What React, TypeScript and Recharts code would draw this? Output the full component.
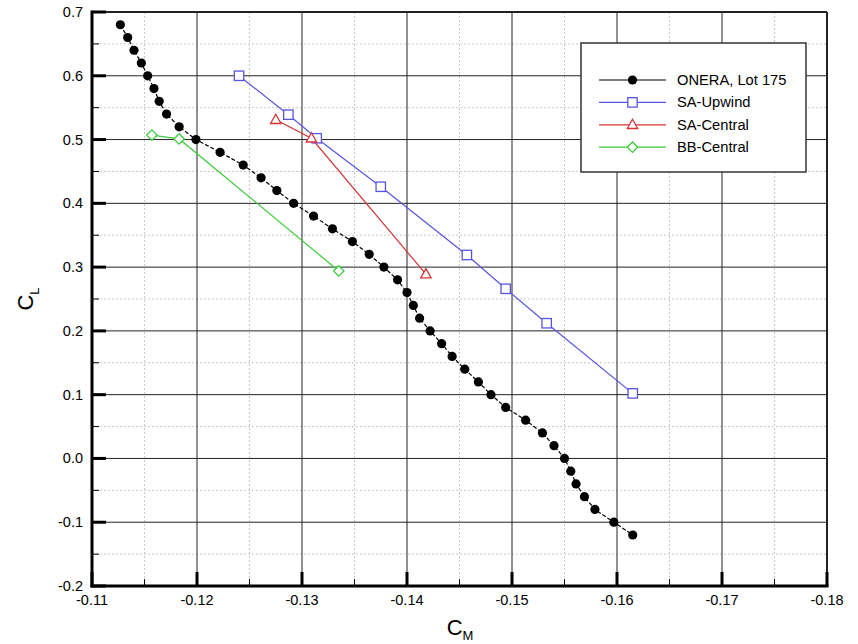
import { ReferenceLine, Scatter, ScatterChart, XAxis, YAxis } from "recharts";

// C_L vs C_M polar, experiment plus three CFD runs
const oneraCM = [
  -0.1127, -0.1134, -0.114, -0.1147, -0.1153, -0.1159, -0.1164, -0.1171, -0.1183, -0.1199,
  -0.1222, -0.1244, -0.1261, -0.1276, -0.1292, -0.1311, -0.1329, -0.1348, -0.1364, -0.1378,
  -0.1391, -0.14, -0.1406, -0.1412, -0.1422, -0.1433, -0.1443, -0.1455, -0.1468, -0.148,
  -0.1494, -0.1513, -0.1529, -0.154, -0.155, -0.1556, -0.1561, -0.1569, -0.1579, -0.1597, -0.1615,
];
const oneraCL = [
  0.68, 0.66, 0.64, 0.62, 0.6, 0.58, 0.56, 0.54, 0.52, 0.5,
  0.48, 0.46, 0.44, 0.42, 0.4, 0.38, 0.36, 0.34, 0.32, 0.3,
  0.28, 0.26, 0.24, 0.22, 0.2, 0.18, 0.16, 0.14, 0.12, 0.1,
  0.08, 0.06, 0.04, 0.02, 0.0, -0.02, -0.04, -0.06, -0.08, -0.1, -0.12,
];
const saUpCM = [-0.124, -0.1287, -0.1314, -0.1375, -0.1457, -0.1494, -0.1533, -0.1615];
const saUpCL = [0.6, 0.539, 0.502, 0.426, 0.319, 0.266, 0.212, 0.102];
const saCenCM = [-0.1275, -0.1309, -0.1418];
const saCenCL = [0.531, 0.502, 0.289];
const bbCM = [-0.1157, -0.1183, -0.1335];
const bbCL = [0.507, 0.501, 0.294];

const xMajor = [-0.11, -0.12, -0.13, -0.14, -0.15, -0.16, -0.17, -0.18];
const xMinor = [-0.115, -0.125, -0.135, -0.145, -0.155, -0.165, -0.175];
const yMajor = [-0.2, -0.1, 0.0, 0.1, 0.2, 0.3, 0.4, 0.5, 0.6, 0.7];
const yMinor = [-0.15, -0.05, 0.05, 0.15, 0.25, 0.35, 0.45, 0.55, 0.65];

const BLUE = "#5555e0";
const RED = "#d83434";
const GREEN = "#3ccc3c";
const FONT = "'Liberation Sans', Arial, sans-serif";

const pts = (xs: number[], ys: number[]) => xs.map((x, i) => ({ x, y: ys[i] }));
const isMajor = (v: number, step: number) => Math.abs(v / step - Math.round(v / step)) < 1e-6;

const Dot = (p: any) => <circle cx={p.cx} cy={p.cy} r={4.6} fill="#000" />;
const Square = (p: any) => (
  <rect x={p.cx - 4.7} y={p.cy - 4.7} width={9.4} height={9.4} fill="#fff" stroke={BLUE} strokeWidth={1.3} />
);
const Triangle = (p: any) => (
  <polygon
    points={`${p.cx},${p.cy - 5.5} ${p.cx + 5.2},${p.cy + 3.7} ${p.cx - 5.2},${p.cy + 3.7}`}
    fill="#fff"
    stroke={RED}
    strokeWidth={1.3}
  />
);
const Diamond = (p: any) => (
  <polygon
    points={`${p.cx},${p.cy - 5.2} ${p.cx + 5.2},${p.cy} ${p.cx},${p.cy + 5.2} ${p.cx - 5.2},${p.cy}`}
    fill="#fff"
    stroke={GREEN}
    strokeWidth={1.3}
  />
);

// gridline plus the inward tick mark on the bottom / left axis
const vGrid = (major: boolean, edge: boolean) => (p: any) => {
  const bottom = Math.max(p.y1, p.y2);
  const top = Math.min(p.y1, p.y2);
  return (
    <g>
      <line
        x1={p.x1} x2={p.x1} y1={top} y2={bottom}
        stroke={major ? "#222" : "#c8c8c8"}
        strokeWidth={major ? (edge ? 2 : 1) : 1}
        strokeDasharray={major ? undefined : "2 2"}
      />
      <line x1={p.x1} x2={p.x1} y1={bottom} y2={bottom - (major ? 14 : 7)} stroke="#000" strokeWidth={major ? 3 : 1} />
    </g>
  );
};
const hGrid = (major: boolean, edge: boolean) => (p: any) => {
  const left = Math.min(p.x1, p.x2);
  const right = Math.max(p.x1, p.x2);
  return (
    <g>
      <line
        x1={left} x2={right} y1={p.y1} y2={p.y1}
        stroke={major ? "#222" : "#c8c8c8"}
        strokeWidth={major ? (edge ? 2 : 1) : 1}
        strokeDasharray={major ? undefined : "2 2"}
      />
      <line x1={left} x2={left + (major ? 14 : 7)} y1={p.y1} y2={p.y1} stroke="#000" strokeWidth={major ? 3 : 1} />
    </g>
  );
};

function XTick({ x, y, payload }: any) {
  return (
    <text x={x} y={y + 19} textAnchor="middle" fontSize={14.5} fontFamily={FONT} fill="#000">
      {payload.value.toFixed(2)}
    </text>
  );
}

function YTick({ x, y, payload }: any) {
  return (
    <text x={x - 9} y={y + 5} textAnchor="end" fontSize={14.5} fontFamily={FONT} fill="#000">
      {payload.value.toFixed(1)}
    </text>
  );
}

const legendRows = [
  { name: "ONERA, Lot 175", color: "#000", Shape: Dot },
  { name: "SA-Upwind", color: BLUE, Shape: Square },
  { name: "SA-Central", color: RED, Shape: Triangle },
  { name: "BB-Central", color: GREEN, Shape: Diamond },
];

function LegendBox() {
  return (
    <svg width={228} height={132} style={{ position: "absolute", left: 580, top: 42 }}>
      <rect x={1} y={1} width={225} height={129} fill="#fff" stroke="#333" strokeWidth={1.5} />
      {legendRows.map((r, i) => {
        const cy = 38 + i * 22.4;
        return (
          <g key={r.name}>
            <line x1={19} x2={86} y1={cy} y2={cy} stroke={r.color} strokeWidth={1.2} />
            <r.Shape cx={52.5} cy={cy} />
            <text x={97} y={cy + 5} fontSize={14.7} fontFamily={FONT} fill="#000">
              {r.name}
            </text>
          </g>
        );
      })}
    </svg>
  );
}

export default function App() {
  return (
    <div style={{ position: "absolute", left: 0, top: 0, width: 858, height: 644, background: "#fff" }}>
      <ScatterChart width={858} height={644} margin={{ top: 12, right: 31, bottom: 28, left: 32 }}>
        {xMinor.map((v) => (
          <ReferenceLine key={"xm" + v} x={v} shape={vGrid(false, false)} zIndex={-50} />
        ))}
        {yMinor.map((v) => (
          <ReferenceLine key={"ym" + v} y={v} shape={hGrid(false, false)} zIndex={-50} />
        ))}
        {xMajor.map((v) => (
          <ReferenceLine key={"xM" + v} x={v} shape={vGrid(true, v === -0.18)} zIndex={-40} />
        ))}
        {yMajor.map((v) => (
          <ReferenceLine key={"yM" + v} y={v} shape={hGrid(true, v === 0.7)} zIndex={-40} />
        ))}
        <XAxis
          type="number"
          dataKey="x"
          domain={[-0.18, -0.11]}
          reversed
          ticks={xMajor}
          interval={0}
          allowDataOverflow
          height={30}
          axisLine={{ stroke: "#000", strokeWidth: 3, strokeLinecap: "square" }}
          tickLine={false}
          tickSize={0}
          tickMargin={0}
          tick={<XTick />}
          label={{
            content: () => (
              <text x={460} y={635} textAnchor="middle" fontFamily={FONT} fill="#000">
                <tspan fontSize={22}>C</tspan>
                <tspan fontSize={13} dy={5}>M</tspan>
              </text>
            ),
          }}
        />
        <YAxis
          type="number"
          dataKey="y"
          domain={[-0.2, 0.7]}
          ticks={yMajor}
          interval={0}
          allowDataOverflow
          width={60}
          axisLine={{ stroke: "#000", strokeWidth: 3, strokeLinecap: "square" }}
          tickLine={false}
          tickSize={0}
          tickMargin={0}
          tick={<YTick />}
          label={{
            content: () => (
              <text transform="translate(33,299) rotate(-90)" textAnchor="middle" fontFamily={FONT} fill="#000">
                <tspan fontSize={22}>C</tspan>
                <tspan fontSize={13} dy={6}>L</tspan>
              </text>
            ),
          }}
        />
        <Scatter
          name="ONERA, Lot 175"
          data={pts(oneraCM, oneraCL)}
          fill="#000"
          line={{ stroke: "#000", strokeWidth: 1.2, strokeDasharray: "4 2" }}
          lineType="joint"
          shape={Dot}
          isAnimationActive={false}
        />
        <Scatter
          name="SA-Upwind"
          data={pts(saUpCM, saUpCL)}
          fill={BLUE}
          line={{ stroke: BLUE, strokeWidth: 1.2 }}
          lineType="joint"
          shape={Square}
          isAnimationActive={false}
        />
        <Scatter
          name="SA-Central"
          data={pts(saCenCM, saCenCL)}
          fill={RED}
          line={{ stroke: RED, strokeWidth: 1.2 }}
          lineType="joint"
          shape={Triangle}
          isAnimationActive={false}
        />
        <Scatter
          name="BB-Central"
          data={pts(bbCM, bbCL)}
          fill={GREEN}
          line={{ stroke: GREEN, strokeWidth: 1.2 }}
          lineType="joint"
          shape={Diamond}
          isAnimationActive={false}
        />
      </ScatterChart>
      <LegendBox />
    </div>
  );
}
